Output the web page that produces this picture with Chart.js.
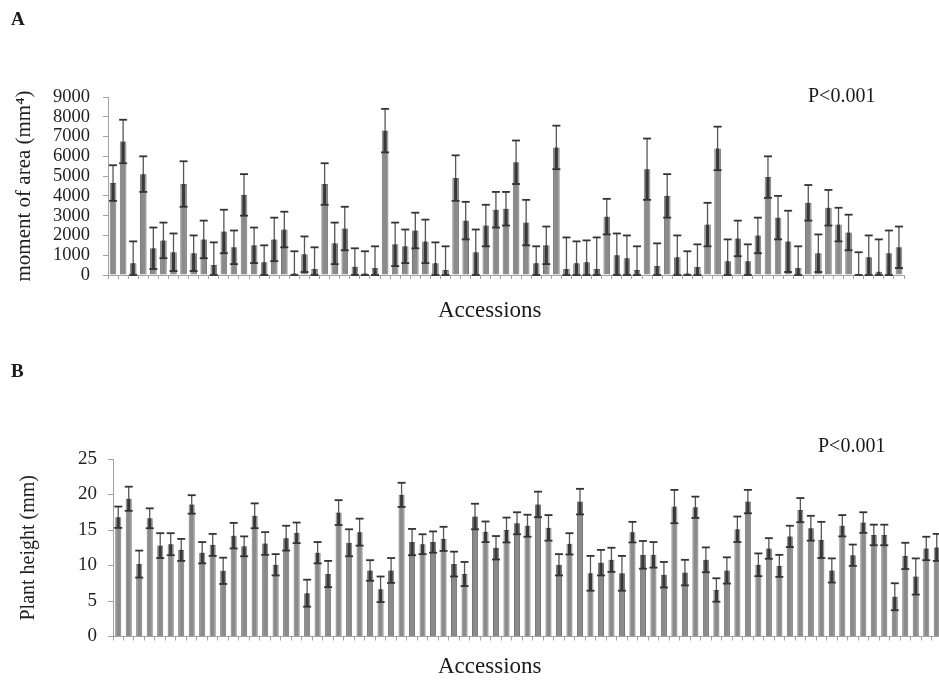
<!DOCTYPE html>
<html>
<head>
<meta charset="utf-8">
<title>Moment of area and plant height by accession</title>
<script src="https://cdn.jsdelivr.net/npm/chart.js@4.4.1/dist/chart.umd.min.js"></script>
<style>
  html, body { margin: 0; padding: 0; background: #fff; width: 939px; height: 681px; overflow: hidden; position: relative; }
  canvas { position: absolute; left: 0; }
  #chartA { top: 0; }
  #chartB { top: 340px; }
  .txt { position: absolute; font-family: "Liberation Serif", "Times New Roman", serif; color: #1a1a1a; line-height: 1; white-space: nowrap; }
</style>
</head>
<body>
<canvas id="chartA" width="939" height="340"></canvas>
<canvas id="chartB" width="960" height="341"></canvas>

<div class="txt" style="left:11px; top:9px; font-size:19px; font-weight:bold;">A</div>
<div class="txt" style="left:808px; top:85px; font-size:20px;">P&lt;0.001</div>
<div class="txt" style="left:438px; top:298px; font-size:23px;">Accessions</div>

<div class="txt" style="left:11px; top:361px; font-size:19px; font-weight:bold;">B</div>
<div class="txt" style="left:818px; top:435px; font-size:20px;">P&lt;0.001</div>
<div class="txt" style="left:438px; top:654px; font-size:23px;">Accessions</div>

<script>
// -------------------------------------------------------
// DATA (79 accessions per panel)
const accessions = Array.from({ length: 79 }, (_, i) => String(i + 1));

// Panel A: second moment of area (mm^4), mean and error
const areaMeans = [
  4650, 6750, 600, 5100, 1350, 1750, 1150, 4600, 1100, 1800,
  500, 2200, 1400, 4050, 1500, 650, 1800, 2300, 80, 1050,
  300, 4600, 1600, 2350, 420, 80, 350, 7300, 1550, 1450,
  2250, 1700, 600, 250, 4900, 2750, 1150, 2500, 3300, 3350,
  5700, 2650, 600, 1500, 6450, 300, 600, 650, 300, 2950,
  1000, 850, 250, 5350, 450, 4000, 900, 80, 400, 2550,
  6400, 700, 1850, 700, 2000, 4950, 2900, 1700, 350, 3650,
  1100, 3400, 2550, 2150, 30, 900, 170, 1100, 1400
];
const areaErrors = [
  900, 1100, 1100, 900, 1050, 900, 950, 1150, 900, 950,
  1150, 1100, 850, 1050, 900, 850, 1100, 900, 1120, 900,
  1100, 1050, 1050, 1100, 930, 1120, 1100, 1100, 1100, 850,
  900, 1100, 1050, 1200, 1150, 950, 1150, 1050, 900, 850,
  1100, 1150, 850, 950, 1100, 1600, 1100, 1100, 1600, 900,
  1100, 1150, 1200, 1550, 1150, 1100, 1100, 1120, 1150, 1100,
  1100, 1100, 900, 850, 900, 1050, 1100, 1550, 1100, 900,
  950, 900, 850, 900, 1120, 1100, 1630, 1150, 1050
];
const areaTicks = [0, 1000, 2000, 3000, 4000, 5000, 6000, 7000, 8000, 9000];

// Panel B: plant height (mm), mean and error
const heightMeans = [
  16.8, 19.4, 10.2, 16.65, 12.8, 13.0, 12.2, 18.6, 11.8, 12.9,
  9.25, 14.2, 12.7, 17.0, 13.1, 10.1, 13.85, 14.6, 6.1, 11.8,
  8.8, 17.45, 13.2, 14.7, 9.3, 6.65, 9.3, 19.95, 13.3, 13.0,
  13.3, 13.75, 10.2, 8.8, 16.9, 14.75, 12.5, 15.0, 15.95, 15.6,
  18.6, 15.3, 10.1, 13.05, 19.0, 8.9, 10.4, 10.8, 8.9, 14.7,
  11.5, 11.5, 8.7, 18.3, 9.0, 18.2, 10.8, 6.55, 9.3, 15.1,
  19.0, 10.1, 12.4, 9.95, 14.1, 17.8, 15.25, 13.6, 9.3, 15.6,
  11.45, 16.05, 14.3, 14.3, 5.6, 11.35, 8.45, 12.4, 12.55
];
const heightErrors = [
  1.5, 1.7, 1.9, 1.4, 1.75, 1.55, 1.55, 1.3, 1.5, 1.55,
  1.85, 1.8, 1.4, 1.75, 1.6, 1.5, 1.75, 1.45, 1.9, 1.5,
  1.85, 1.75, 1.9, 1.9, 1.45, 1.8, 1.75, 1.7, 1.85, 1.4,
  1.5, 1.7, 1.75, 1.7, 1.8, 1.45, 1.65, 1.75, 1.55, 1.55,
  1.8, 1.8, 1.5, 1.5, 1.8, 2.45, 1.8, 1.7, 2.45, 1.45,
  1.95, 1.8, 1.8, 2.35, 1.8, 1.5, 1.75, 1.65, 1.85, 1.8,
  1.65, 1.6, 1.45, 1.55, 1.5, 1.7, 1.75, 2.55, 1.7, 1.5,
  1.5, 1.45, 1.45, 1.45, 1.9, 1.85, 2.55, 1.65, 1.9
];
const heightTicks = [0, 5, 10, 15, 20, 25];

// -------------------------------------------------------
// STYLE
const SERIF = '"Liberation Serif", "Times New Roman", serif';
const BAR_FILL = '#8b8b8b';
const BAR_EDGE = '#747474';
const AXIS = '#a3a3a3';
const TEXT = '#1e1e1e';

// -------------------------------------------------------
// ERROR BARS (drawn through the chart's own y scale)
const errorBarPlugin = {
  id: 'errorBars',
  afterDatasetsDraw(chart, args, opts) {
    const ctx = chart.ctx;
    const yScale = chart.scales.y;
    const values = chart.data.datasets[0].data;
    const half = opts.capWidth / 2;
    const seg = (x1, y1, x2, y2) => { ctx.beginPath(); ctx.moveTo(x1, y1); ctx.lineTo(x2, y2); ctx.stroke(); };
    ctx.save();
    chart.getDatasetMeta(0).data.forEach((bar, i) => {
      const v = values[i];
      const e = opts.errors[i];
      const x = bar.x;
      const yHi = yScale.getPixelForValue(v + e);
      const yVal = yScale.getPixelForValue(v);
      const yLo = yScale.getPixelForValue(Math.max(0, v - e));
      // upper whisker (thin, above the bar)
      ctx.strokeStyle = '#565656';
      ctx.lineWidth = 1.3;
      seg(x, yHi, x, yVal);
      // lower whisker (over the bar, looks heavier)
      ctx.strokeStyle = '#383838';
      ctx.lineWidth = 3;
      seg(x, yVal, x, yLo);
      // caps
      ctx.strokeStyle = '#333';
      ctx.lineWidth = 1.8;
      seg(x - half, yHi, x + half, yHi);
      seg(x - half, yLo, x + half, yLo);
    });
    ctx.restore();
  }
};

// -------------------------------------------------------
// CHART FACTORY
function makeChart(id, means, errors, tickValues, cfg) {
  return new Chart(document.getElementById(id), {
    type: 'bar',
    data: {
      labels: accessions,
      datasets: [{
        data: means,
        backgroundColor: BAR_FILL,
        borderColor: BAR_EDGE,
        borderWidth: 1,
        barPercentage: cfg.barPct,
        categoryPercentage: 1
      }]
    },
    options: {
      responsive: false,
      animation: false,
      events: [],
      layout: { padding: { left: 0, right: cfg.padRight, top: cfg.padTop, bottom: 0 } },
      plugins: {
        legend: { display: false },
        tooltip: { enabled: false },
        errorBars: { errors: errors, capWidth: 8 }
      },
      scales: {
        x: {
          grid: { offset: true, drawOnChartArea: false, drawTicks: true, tickLength: 4, color: AXIS },
          border: { color: AXIS, width: 1 },
          ticks: { display: false, autoSkip: false },
          afterFit: (s) => { s.height = cfg.xHeight; }
        },
        y: {
          min: tickValues[0],
          max: tickValues[tickValues.length - 1],
          afterBuildTicks: (s) => { s.ticks = tickValues.map((v) => ({ value: v })); },
          ticks: {
            autoSkip: false,
            padding: cfg.tickPad,
            color: TEXT,
            font: { family: SERIF, size: cfg.tickSize },
            callback: (v) => String(v)
          },
          grid: { drawOnChartArea: false, drawTicks: true, tickLength: 5, color: AXIS },
          border: { color: AXIS, width: 1 },
          title: {
            display: true,
            text: cfg.title,
            color: TEXT,
            padding: { top: cfg.titlePad, bottom: 0 },
            font: { family: SERIF, size: cfg.titleSize }
          },
          afterFit: (s) => { s.width = cfg.yWidth; }
        }
      }
    },
    plugins: [errorBarPlugin]
  });
}

makeChart('chartA', areaMeans, areaErrors, areaTicks, {
  tickSize: 18.5, tickPad: 13,
  title: 'moment of area (mm\u2074)', titleSize: 21, titlePad: 11.5,
  yWidth: 108, xHeight: 65, padTop: 97, padRight: 35, barPct: 0.66
});

makeChart('chartB', heightMeans, heightErrors, heightTicks, {
  tickSize: 19, tickPad: 11,
  title: 'Plant height (mm)', titleSize: 20, titlePad: 17,
  yWidth: 113, xHeight: 44.5, padTop: 119, padRight: 18, barPct: 0.58
});
</script>
</body>
</html>
